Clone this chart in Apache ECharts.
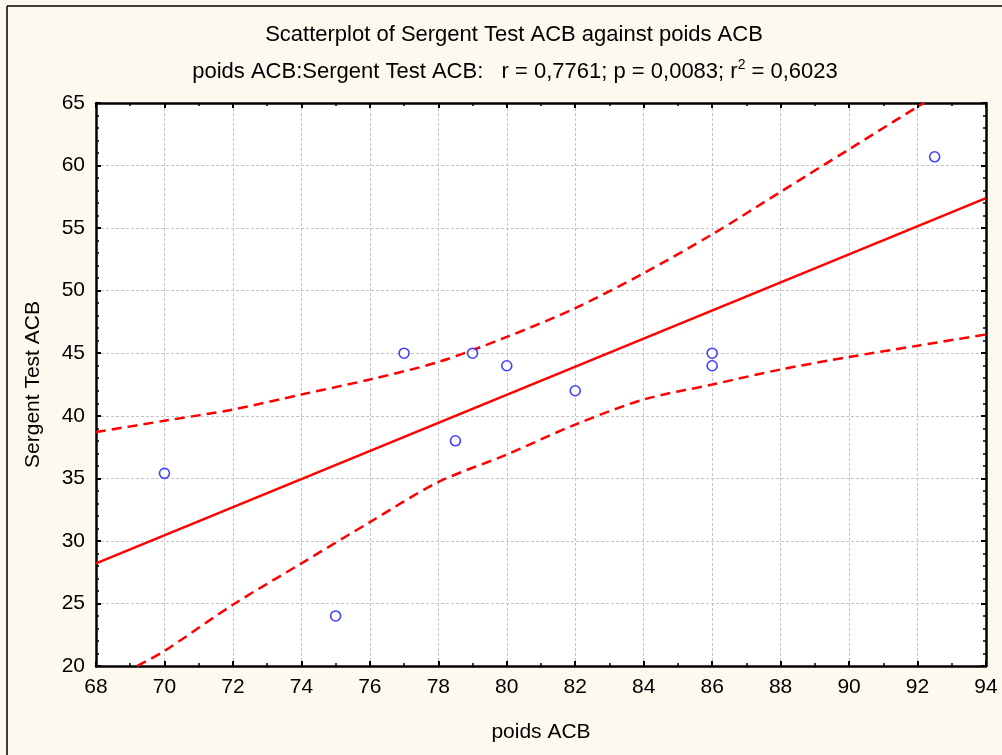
<!DOCTYPE html>
<html>
<head>
<meta charset="utf-8">
<script src="https://cdn.jsdelivr.net/npm/echarts@6/dist/echarts.min.js"></script>
<style>
  html, body { margin: 0; padding: 0; background: #fdf9ee; }
  #chart { width: 1002px; height: 755px; }
</style>
</head>
<body>
<div id="chart"></div>
<script>
// Observations: poids ACB (x) vs Sergent Test ACB (y)
const poids = [70, 75, 77, 78.5, 79, 80, 82, 86, 86, 92.5];
const sergent = [35.4, 24, 45, 38, 45, 44, 42, 45, 44, 60.7];

// Linear fit endpoints across the axis range
const fitX = [68, 94];
const fitY = [28.2, 57.4];

// 95% confidence band of the fit (upper and lower curves)
const upperX = [68, 70, 72, 74, 76, 78, 80, 82, 84, 86, 88, 90, 92, 92.2];
const upperY = [38.7, 39.6, 40.5, 41.7, 42.9, 44.3, 46.3, 48.6, 51.4, 54.5, 57.9, 61.3, 64.7, 65];
const lowerX = [69.2, 70, 72, 74, 76, 78, 80, 82, 84, 86, 88, 90, 92, 94];
const lowerY = [20, 21.2, 24.9, 28.2, 31.5, 34.7, 36.9, 39.3, 41.3, 42.5, 43.7, 44.7, 45.6, 46.5];

const zip = (a, b) => a.map((v, i) => [v, b[i]]);

const FONT = 'Liberation Sans, Arial, sans-serif';
const chart = echarts.init(document.getElementById('chart'), null, { renderer: 'canvas' });

const tickInside = { show: true, inside: true, length: 5, lineStyle: { color: '#000', width: 2 } };
const minorInside = { show: true, length: 3, lineStyle: { color: '#000', width: 1.5 } };
const axisLine = { show: true, onZero: false, lineStyle: { color: '#000', width: 2.5 } };
const bandStyle = { color: '#ff0000', width: 2.5, type: [10, 6] };

chart.setOption({
  backgroundColor: '#fdf9ee',
  animation: false,
  title: [
    {
      text: 'Scatterplot of Sergent Test ACB against poids ACB',
      left: 509, top: 19, textAlign: 'center',
      textStyle: { fontFamily: FONT, fontSize: 22, fontWeight: 'normal', color: '#000' }
    },
    {
      text: 'poids ACB:Sergent Test ACB:   r = 0,7761; p = 0,0083; r{sup|2} = 0,6023',
      left: 510, top: 53, textAlign: 'center',
      textStyle: {
        fontFamily: FONT, fontSize: 22, fontWeight: 'normal', color: '#000', lineHeight: 28,
        rich: { sup: { fontFamily: FONT, fontSize: 14, color: '#000', verticalAlign: 'top', lineHeight: 28, padding: [0, 0, 8, 0] } }
      }
    }
  ],
  grid: { left: 96, top: 103, right: 16, bottom: 89, backgroundColor: '#fff', show: true, borderWidth: 0 },
  xAxis: [
    {
      type: 'value', min: 68, max: 94, interval: 2, position: 'bottom',
      name: 'poids ACB', nameLocation: 'middle', nameGap: 56,
      nameTextStyle: { fontFamily: FONT, fontSize: 21, color: '#000' },
      axisLine, axisTick: tickInside,
      minorTick: Object.assign({ splitNumber: 2 }, minorInside),
      axisLabel: { fontFamily: FONT, fontSize: 21, color: '#000', margin: 11 },
      splitLine: { show: true, lineStyle: { color: '#c4c4c4', type: [3, 2], width: 1 } }
    },
    {
      type: 'value', min: 68, max: 94, interval: 2, position: 'top',
      axisLine, axisTick: tickInside,
      minorTick: Object.assign({ splitNumber: 2 }, minorInside),
      axisLabel: { show: false }, splitLine: { show: false }
    }
  ],
  yAxis: [
    {
      type: 'value', min: 20, max: 65, interval: 5, position: 'left',
      name: 'Sergent Test ACB', nameLocation: 'middle', nameGap: 52,
      nameTextStyle: { fontFamily: FONT, fontSize: 21, color: '#000' },
      axisLine, axisTick: tickInside,
      minorTick: Object.assign({ splitNumber: 5 }, minorInside),
      axisLabel: { fontFamily: FONT, fontSize: 21, color: '#000', margin: 11 },
      splitLine: { show: true, lineStyle: { color: '#c4c4c4', type: [3, 2], width: 1 } }
    },
    {
      type: 'value', min: 20, max: 65, interval: 5, position: 'right',
      axisLine, axisTick: tickInside,
      minorTick: Object.assign({ splitNumber: 5 }, minorInside),
      axisLabel: { show: false }, splitLine: { show: false }
    }
  ],
  series: [
    {
      name: 'upper', type: 'line', data: zip(upperX, upperY), smooth: 0.3,
      showSymbol: false, clip: true, lineStyle: bandStyle, z: 3
    },
    {
      name: 'lower', type: 'line', data: zip(lowerX, lowerY), smooth: 0.3,
      showSymbol: false, clip: true, lineStyle: bandStyle, z: 3
    },
    {
      name: 'fit', type: 'line', data: zip(fitX, fitY),
      showSymbol: false, clip: true,
      lineStyle: { color: '#ff0000', width: 2.5 }, z: 3
    },
    {
      name: 'observed', type: 'scatter', data: zip(poids, sergent),
      symbol: 'circle', symbolSize: 10,
      itemStyle: { color: '#fff', borderColor: '#1010ff', borderWidth: 1.6 }, z: 4
    }
  ],
  graphic: [
    { type: 'line', shape: { x1: 7, y1: 6, x2: 1002, y2: 6 }, style: { stroke: '#000', lineWidth: 1.5 }, silent: true },
    { type: 'line', shape: { x1: 7, y1: 6, x2: 7, y2: 755 }, style: { stroke: '#000', lineWidth: 1.5 }, silent: true }
  ]
});
</script>
</body>
</html>
